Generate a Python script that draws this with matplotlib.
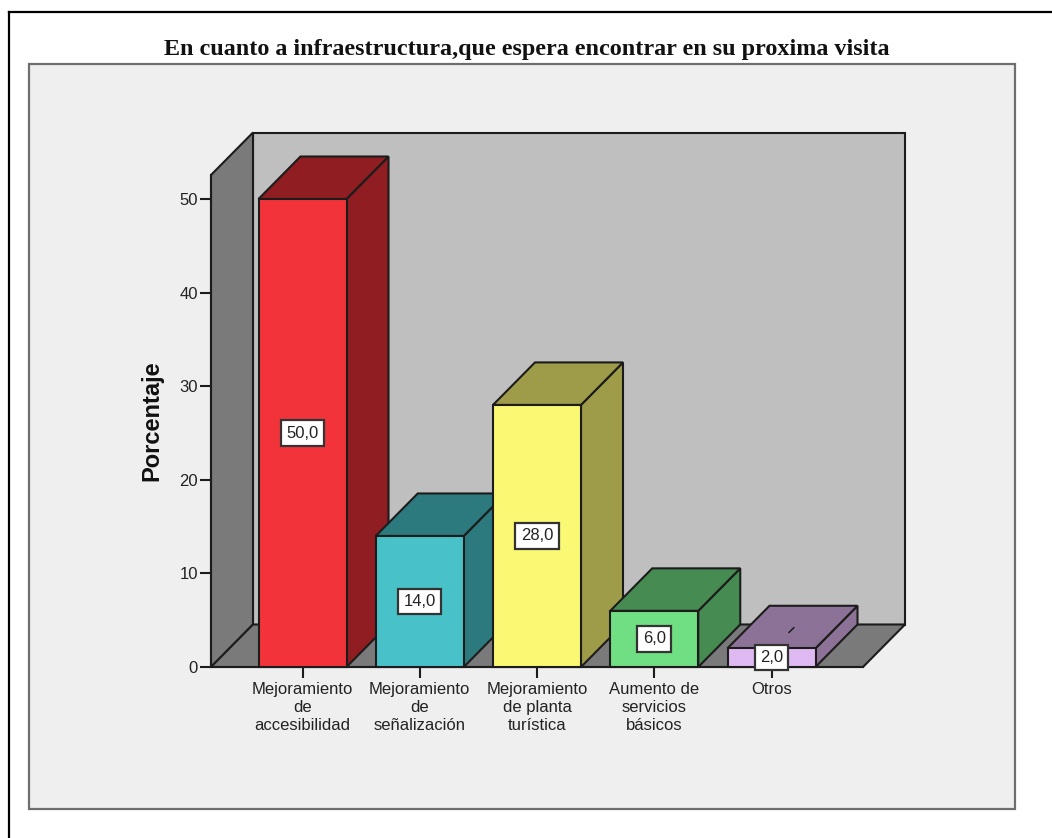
import matplotlib
matplotlib.use("Agg")
import matplotlib.pyplot as plt
from matplotlib.patches import Rectangle, Polygon
from matplotlib.lines import Line2D

categories = ["Mejoramiento\nde\naccesibilidad", "Mejoramiento\nde\nseñalización",
              "Mejoramiento\nde planta\nturística", "Aumento de\nservicios\nbásicos", "Otros"]
values = [50.0, 14.0, 28.0, 6.0, 2.0]
value_labels = ["50,0", "14,0", "28,0", "6,0", "2,0"]
front_colors = ["#F2333A", "#48C2C8", "#FBF874", "#70DE82", "#DFB9F1"]
dark_colors = ["#8F1D21", "#2D7A7E", "#9E9C49", "#468B52", "#8C7297"]
y_ticks = [0, 10, 20, 30, 40, 50]
title = "En cuanto a infraestructura,que espera encontrar en su proxima visita"
y_label = "Porcentaje"

W, H = 1052, 838
plt.rcParams["font.family"] = ["Liberation Sans", "DejaVu Sans"]
fig = plt.figure(figsize=(W / 100, H / 100), dpi=100, facecolor="white")

def fx(p): return p / W
def fy(p): return 1 - p / H

EDGE = "#1c1c1c"
TEXT = "#222222"

# outer frame (open at right and bottom, cropped screenshot)
fig.add_artist(Line2D([fx(9), fx(9)], [fy(12), 0], color="black", lw=1.6, zorder=-2))
fig.add_artist(Line2D([fx(9), 1], [fy(12), fy(12)], color="black", lw=1.6, zorder=-2))
# plot panel
fig.add_artist(Rectangle((fx(28.5), fy(809)), fx(986), 745 / H, transform=fig.transFigure,
                         facecolor="#EFEFEF", edgecolor="#6e6e6e", lw=1.6, zorder=-1))
fig.text(fx(527), fy(50), title, ha="center", va="center", fontsize=17.4,
         fontweight="bold", family=["Liberation Serif", "DejaVu Serif"], color="#111111")

# axes: data scale 117 px per category, 9.36 px per percent
left, right, bottom, top = 211, 863, 667, 175
ax = fig.add_axes([fx(left), fy(bottom), (right - left) / W, (bottom - top) / H])
ax.patch.set_visible(False)
xpx, ypx = 117.25, 9.36
x0 = 302.5
ax.set_xlim((left - x0) / xpx, (right - x0) / xpx)
ax.set_ylim(0, (bottom - top) / ypx)
DX, DY = 42 / xpx, 42.5 / ypx
BW = 88 / xpx
xl, xr = ax.get_xlim()
yt = ax.get_ylim()[1]

def poly(pts, fc, z):
    ax.add_patch(Polygon(pts, closed=True, facecolor=fc, edgecolor=EDGE, lw=1.5,
                         joinstyle="miter", clip_on=False, zorder=z))

# 3D walls
poly([(xl + DX, DY), (xr + DX, DY), (xr + DX, yt + DY), (xl + DX, yt + DY)], "#BFBFBF", 1)
poly([(xl, 0), (xl + DX, DY), (xl + DX, yt + DY), (xl, yt)], "#7A7A7A", 1.1)
poly([(xl, 0), (xr, 0), (xr + DX, DY), (xl + DX, DY)], "#7A7A7A", 1.2)

# bars
for i, (v, fc, dc, lab) in enumerate(zip(values, front_colors, dark_colors, value_labels)):
    z = 2 + i
    l, r = i - BW / 2, i + BW / 2
    poly([(r, 0), (r + DX, DY), (r + DX, v + DY), (r, v)], dc, z)
    poly([(l, v), (r, v), (r + DX, v + DY), (l + DX, v + DY)], dc, z)
    ax.bar(i, v, width=BW, color=fc, edgecolor=EDGE, lw=1.5, zorder=z + 0.1, clip_on=False)
    ax.text(i, v / 2, lab, ha="center", va="center", fontsize=12, color=TEXT, zorder=20,
            bbox=dict(boxstyle="square,pad=0.32", facecolor="white", edgecolor="#333333", lw=1.6))

# short leader of the last label
ax.plot([len(values) - 1 + 0.15, len(values) - 1 + 0.19], [values[-1] + 1.7, values[-1] + 2.2],
        color=EDGE, lw=1.1, zorder=19)

ax.set_yticks(y_ticks)
ax.set_xticks(range(len(categories)))
ax.set_xticklabels(categories, linespacing=1.22)
ax.tick_params(axis="y", length=8, width=1.5, color=EDGE, labelsize=12, labelcolor=TEXT, pad=1.5)
ax.tick_params(axis="x", length=8, width=1.5, color=EDGE, labelsize=12, labelcolor=TEXT, pad=3)
for s in ("top", "right"):
    ax.spines[s].set_visible(False)
for s in ("left", "bottom"):
    ax.spines[s].set_color(EDGE)
    ax.spines[s].set_linewidth(1.5)
    ax.spines[s].set_zorder(1.5)
ax.set_axisbelow(False)

fig.text(fx(152), fy(421), y_label, rotation=90, ha="center", va="center",
         fontsize=17, fontweight="bold", color="#111111")

fig.savefig("out.png", dpi=100, facecolor="white")
